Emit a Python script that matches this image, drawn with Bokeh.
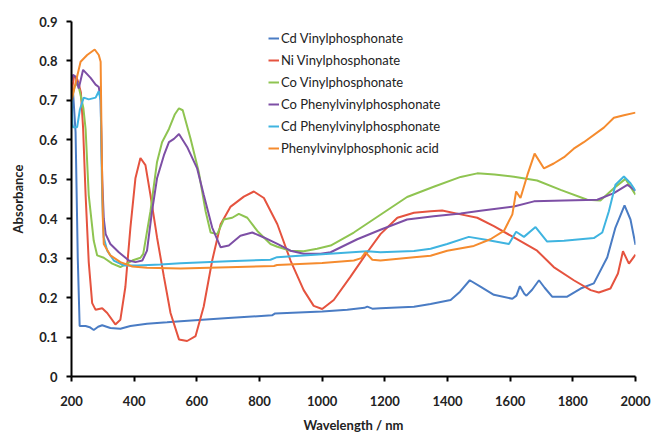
from bokeh.plotting import figure
from bokeh.models import FixedTicker, CustomJSTickFormatter, Legend, LegendItem
from bokeh.embed import file_html
from bokeh.resources import INLINE

# ---- data ----
cd_vinyl_x = [200, 205, 213, 220, 226, 245, 258, 271, 285, 298, 324, 356, 388, 441, 505, 548, 700, 840, 850,
              1000, 1080, 1135, 1144, 1160, 1186, 1293, 1346, 1410, 1440, 1471, 1505, 1548, 1607, 1620, 1631,
              1645, 1652, 1670, 1692, 1710, 1734, 1782, 1825, 1867, 1910, 1936, 1965, 1984, 2000]
cd_vinyl_y = [0.74, 0.72, 0.62, 0.30, 0.128, 0.128, 0.125, 0.118, 0.126, 0.13, 0.123, 0.121, 0.128, 0.134, 0.1375,
              0.14, 0.148, 0.155, 0.16, 0.165, 0.169, 0.174, 0.177, 0.172, 0.173, 0.177, 0.184, 0.194, 0.215,
              0.244, 0.228, 0.207, 0.197, 0.205, 0.229, 0.21, 0.205, 0.22, 0.244, 0.225, 0.2025, 0.2025, 0.223,
              0.236, 0.3025, 0.3775, 0.434, 0.398, 0.334]

ni_vinyl_x = [200, 208, 215, 222, 230, 237, 245, 255, 266, 277, 298, 314, 340, 356, 372, 388, 404, 420, 436, 452,
              473, 495, 516, 543, 569, 596, 622, 649, 676, 707, 750, 782, 814, 857, 899, 941, 973, 1000, 1037,
              1090, 1144, 1186, 1240, 1293, 1346, 1383, 1442, 1495, 1548, 1612, 1686, 1739, 1803, 1857, 1883,
              1920, 1944, 1960, 1979, 2000]
ni_vinyl_y = [0.72, 0.76, 0.76, 0.745, 0.72, 0.63, 0.46, 0.29, 0.186, 0.169, 0.173, 0.161, 0.132, 0.144, 0.2275,
              0.3775, 0.5025, 0.554, 0.536, 0.46, 0.3525, 0.2525, 0.161, 0.094, 0.09, 0.1025, 0.1775, 0.294,
              0.386, 0.43, 0.456, 0.469, 0.4525, 0.386, 0.294, 0.219, 0.179, 0.171, 0.194, 0.2525, 0.315, 0.361,
              0.4025, 0.415, 0.419, 0.421, 0.411, 0.4025, 0.381, 0.3525, 0.319, 0.2775, 0.244, 0.219, 0.213,
              0.223, 0.261, 0.3175, 0.286, 0.309]

co_vinyl_x = [200, 210, 220, 230, 238, 245, 255, 271, 282, 303, 330, 356, 372, 394, 420, 429, 452, 473, 489, 511,
              530, 543, 555, 580, 606, 628, 644, 665, 686, 697, 713, 734, 761, 793, 835, 857, 899, 941, 984, 1027,
              1101, 1186, 1271, 1356, 1442, 1495, 1550, 1612, 1686, 1761, 1846, 1888, 1931, 1968, 2000]
co_vinyl_y = [0.70, 0.735, 0.745, 0.71, 0.68, 0.6275, 0.46, 0.344, 0.307, 0.301, 0.286, 0.2775, 0.284, 0.294,
              0.301, 0.311, 0.419, 0.544, 0.594, 0.6275, 0.665, 0.68, 0.675, 0.6025, 0.519, 0.419, 0.365, 0.361,
              0.398, 0.40, 0.4025, 0.4125, 0.4025, 0.369, 0.336, 0.329, 0.319, 0.3175, 0.324, 0.332, 0.365, 0.41,
              0.455, 0.481, 0.506, 0.515, 0.512, 0.5065, 0.497, 0.473, 0.448, 0.446, 0.4775, 0.501, 0.461]

co_phenyl_x = [200, 205, 213, 223, 237, 261, 277, 287, 293, 298, 303, 309, 324, 351, 383, 404, 426, 441, 457, 473,
               495, 511, 527, 543, 569, 601, 622, 649, 676, 702, 739, 777, 814, 857, 899, 941, 995, 1027, 1112,
               1186, 1271, 1356, 1442, 1505, 1612, 1676, 1772, 1878, 1931, 1974, 2000]
co_phenyl_y = [0.75, 0.765, 0.76, 0.73, 0.7775, 0.757, 0.74, 0.734, 0.70, 0.50, 0.40, 0.361, 0.336, 0.315, 0.294,
               0.29, 0.294, 0.319, 0.419, 0.5025, 0.561, 0.594, 0.6025, 0.615, 0.582, 0.5275, 0.461, 0.3775,
               0.3275, 0.332, 0.357, 0.365, 0.3525, 0.336, 0.319, 0.311, 0.311, 0.315, 0.348, 0.372, 0.398, 0.406,
               0.413, 0.42, 0.431, 0.444, 0.446, 0.448, 0.465, 0.486, 0.471]

cd_phenyl_x = [200, 203, 205, 218, 227, 239, 255, 277, 287, 293, 298, 303, 314, 335, 367, 410, 484, 548, 700, 835,
               856, 1000, 1144, 1186, 1293, 1346, 1399, 1468, 1527, 1596, 1619, 1644, 1681, 1718, 1772, 1867, 1894,
               1915, 1936, 1963, 1984, 2000]
cd_phenyl_y = [0.72, 0.64, 0.632, 0.632, 0.6775, 0.707, 0.7025, 0.707, 0.723, 0.70, 0.45, 0.3525, 0.319, 0.294,
               0.2815, 0.2815, 0.284, 0.287, 0.292, 0.296, 0.3025, 0.31, 0.3175, 0.315, 0.318, 0.324, 0.336,
               0.354, 0.346, 0.336, 0.367, 0.354, 0.379, 0.342, 0.344, 0.351, 0.365, 0.419, 0.486, 0.507, 0.49,
               0.471]

acid_x = [200, 213, 229, 250, 274, 287, 293, 296, 300, 303, 324, 356, 394, 441, 548, 700, 846, 856, 1000, 1101,
          1125, 1138, 1160, 1186, 1293, 1346, 1399, 1484, 1537, 1580, 1607, 1619, 1633, 1655, 1678, 1708, 1739,
          1772, 1803, 1835, 1899, 1931, 1963, 2000]
acid_y = [0.70, 0.744, 0.798, 0.815, 0.829, 0.815, 0.798, 0.60, 0.40, 0.336, 0.307, 0.29, 0.279, 0.276, 0.274,
          0.277, 0.28, 0.2825, 0.288, 0.294, 0.30, 0.315, 0.296, 0.294, 0.3025, 0.306, 0.319, 0.331, 0.348,
          0.369, 0.411, 0.469, 0.4525, 0.511, 0.565, 0.5275, 0.54, 0.556, 0.5775, 0.594, 0.631, 0.656, 0.6625,
          0.669]

series_names = ["Cd Vinylphosphonate", "Ni Vinylphosphonate", "Co Vinylphosphonate",
                "Co Phenylvinylphosphonate", "Cd Phenylvinylphosphonate", "Phenylvinylphosphonic acid"]
series_x = [cd_vinyl_x, ni_vinyl_x, co_vinyl_x, co_phenyl_x, cd_phenyl_x, acid_x]
series_y = [cd_vinyl_y, ni_vinyl_y, co_vinyl_y, co_phenyl_y, cd_phenyl_y, acid_y]
colors = ["#4a7cc4", "#e5533f", "#8fc451", "#7d4fa5", "#3fb4e0", "#f58b2e"]

x_ticks = [200, 400, 600, 800, 1000, 1200, 1400, 1600, 1800, 2000]
y_ticks = [0, 0.1, 0.2, 0.3, 0.4, 0.5, 0.6, 0.7, 0.8, 0.9]

FONT = "Lato"

p = figure(width=653, height=435, x_range=(200, 2000), y_range=(0, 0.9),
           output_backend="svg", toolbar_location=None,
           min_border_left=71, min_border_right=18, min_border_top=21, min_border_bottom=54)
p.outline_line_color = None
p.xgrid.grid_line_color = None
p.ygrid.grid_line_color = None
p.background_fill_color = "white"

items = []
for name, xs, ys, c in zip(series_names, series_x, series_y, colors):
    r = p.line(xs, ys, line_color=c, line_width=2)
    items.append(LegendItem(label=name, renderers=[r]))

for ax in (p.xaxis[0], p.yaxis[0]):
    ax.axis_line_color = "black"
    ax.axis_line_width = 2
    ax.major_tick_line_color = "black"
    ax.major_tick_line_width = 2
    ax.major_tick_out = 5
    ax.major_tick_in = 0
    ax.minor_tick_line_color = None
    ax.major_label_text_font = FONT
    ax.major_label_text_font_style = "bold"
    ax.major_label_text_font_size = "13px"
    ax.major_label_text_color = "#222222"
    ax.axis_label_text_font = FONT
    ax.axis_label_text_font_style = "bold"
    ax.axis_label_text_font_size = "13px"
    ax.axis_label_text_color = "#222222"

p.xaxis[0].ticker = FixedTicker(ticks=x_ticks)
p.yaxis[0].ticker = FixedTicker(ticks=y_ticks)
p.yaxis[0].formatter = CustomJSTickFormatter(code="return Math.abs(tick) < 1e-9 ? '0' : tick.toFixed(1);")
p.xaxis[0].major_label_standoff = 14
p.yaxis[0].major_label_standoff = 9
p.xaxis[0].axis_label = "Wavelength / nm"
p.yaxis[0].axis_label = "Absorbance"
p.xaxis[0].axis_label_standoff = 8
p.yaxis[0].axis_label_standoff = 10

legend = Legend(items=items, location=(197, 217), padding=0, margin=0,
                border_line_color=None, background_fill_alpha=0,
                glyph_width=11, glyph_height=22, label_height=22, spacing=0,
                label_standoff=2, label_text_font=FONT, label_text_font_size="13px",
                label_text_color="#222222")
p.add_layout(legend)

open("out.html", "w").write(file_html(p, INLINE))
